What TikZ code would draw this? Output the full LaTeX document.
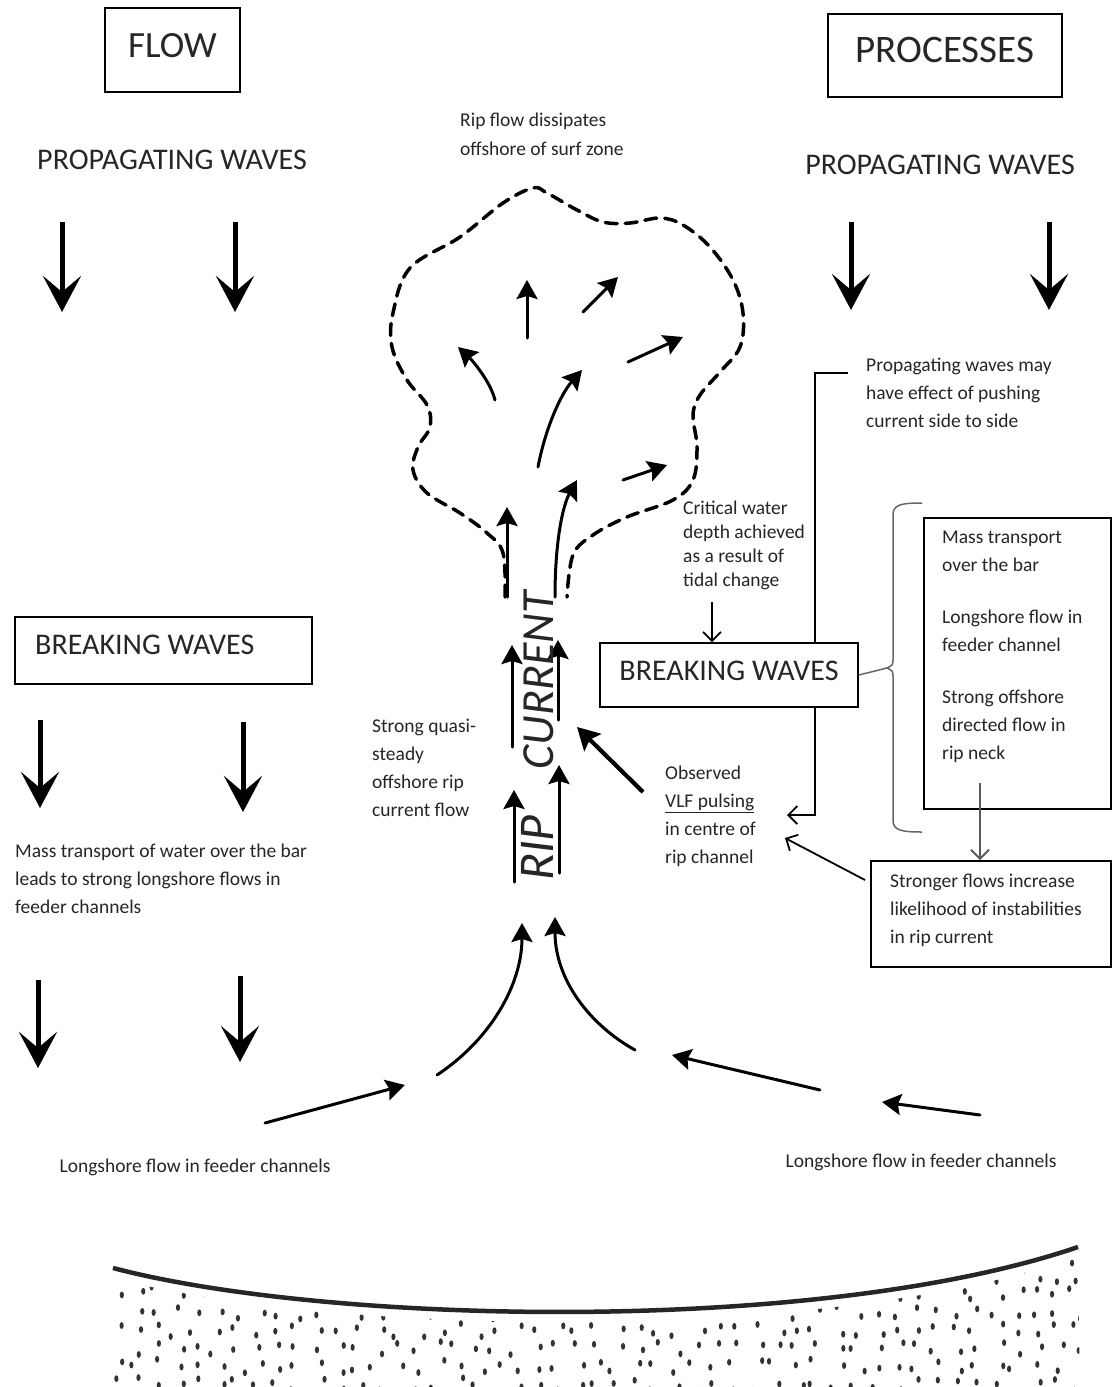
\documentclass[tikz,border=0pt]{standalone}
\usepackage{fontspec}
\setmainfont{Carlito}
\usetikzlibrary{arrows.meta,calc}

\tikzset{
  box/.style={draw, line width=1.6pt, fill=white, inner sep=0pt},
  heading/.style={font=\fontsize{30}{34}\selectfont, text=black!85, inner sep=0pt},
  small/.style={font=\fontsize{19.5}{28}\selectfont, text=black!85, align=left,
                inner sep=0pt, anchor=north west},
  bigarrow/.style={line width=5pt, -{Stealth[length=36pt,width=38pt,inset=16pt]}},
  flowarrow/.style={line width=3pt, line cap=round,
                    -{Stealth[length=19pt,width=21pt,inset=3pt]}},
  obsarrow/.style={line width=4.2pt, -{Stealth[length=22pt,width=24pt,inset=4pt]}},
  thinarrow/.style={line width=1.8pt, -{Straight Barb[length=9pt,width=18pt]}},
  greyarrow/.style={line width=1.8pt, black!65, -{Straight Barb[length=9pt,width=18pt]}},
  cloudline/.style={line width=3.5pt, dash pattern=on 12pt off 8pt, line cap=round},
  bracelin/.style={line width=1.5pt, black!60},
}

\begin{document}
\begin{tikzpicture}[x=1pt,y=-1pt]
\fill[white] (0,0) rectangle (1112,1387);
\useasboundingbox (0,0) rectangle (1112,1387);

% ---- column headings ----
\node[box, minimum width=135pt, minimum height=84pt, text depth=10pt,
      font=\fontsize{37}{40}\selectfont, text=black!85] (flowbox) at (172.5,50) {FLOW};
\node[box, minimum width=234pt, minimum height=83pt, text depth=12pt,
      font=\fontsize{39}{42}\selectfont, text=black!85] (procbox) at (945,55.5) {PROCESSES};

\node[heading] (propL) at (172,160) {PROPAGATING WAVES};
\node[heading] (propR) at (940,165) {PROPAGATING WAVES};

% ---- incoming wave arrows ----
\draw[bigarrow] (62,222) -- (62,312);
\draw[bigarrow] (235,222) -- (235,312);
\draw[bigarrow] (851,222) -- (851,310);
\draw[bigarrow] (1049,222) -- (1049,310);

\node[box, minimum width=297pt, minimum height=67pt, anchor=west] (breakL) at (14,650.5) {};
\node[heading, anchor=west] (breakLtxt) at (35,645) {BREAKING WAVES};

\draw[bigarrow] (40,720) -- (40,808);
\draw[bigarrow] (243,722) -- (243,812);

\node[small] (masstxt) at (15,844)
  {Mass transport of water over the bar\\leads to strong longshore flows in\\feeder channels};

\draw[bigarrow] (38,980) -- (38,1068);
\draw[bigarrow] (240,976) -- (240,1062);

% ---- rip head: dashed outline and spreading flow ----
\node[small, font=\fontsize{19.5}{29}\selectfont] (dissip) at (460,113)
  {Rip flow dissipates\\offshore of surf zone};

\draw[cloudline] plot[smooth, tension=0.6] coordinates {
  (505,597) (503,553) (487,533) (460,513) (427,493) (413,470) (418,447)
  (430,427) (427,405) (407,380) (392,347) (393,313) (410,268) (460,237)
  (503,203) (533,188) (547,193) (577,210) (603,222) (630,223) (660,218)
  (683,225) (710,247) (733,280) (743,313) (740,347) (720,372) (700,395)
  (693,415) (697,447) (693,480) (673,500) (627,517) (593,535) (573,555)
  (567,597)};

\draw[flowarrow] (527,338) -- (527,280);
\draw[flowarrow] (583,312) -- (618,277);
\draw[flowarrow] (495,400) .. controls (490,380) and (470,358) .. (458,347);
\draw[flowarrow] (628,362) -- (683,337);
\draw[flowarrow] (538,467) .. controls (545,430) and (560,395) .. (582,370);
\draw[flowarrow] (623,480) -- (667,465);
\draw[flowarrow] (507,597) -- (507,507);
\draw[flowarrow] (555,597) .. controls (555,540) and (563,505) .. (577,480);

% ---- rip neck ----
\draw[flowarrow] (512,747) -- (512,645);
\draw[flowarrow] (558,720) -- (558,640);
\draw[flowarrow] (514,882) -- (514,790);
\draw[flowarrow] (559,873) -- (559,765);
\node[rotate=90, font=\fontsize{46}{48}\selectfont\itshape, text=black!85,
      inner sep=0pt] (current) at (539,680) {CURRENT};
\node[rotate=90, font=\fontsize{50}{52}\selectfont\itshape, text=black!85,
      inner sep=0pt] (rip) at (537,848) {RIP};

\node[small] (quasi) at (372,719)
  {Strong quasi-\\steady\\offshore rip\\current flow};

% ---- feeder flow ----
\draw[flowarrow] (437,1075) .. controls (490,1040) and (522,985) .. (522,923);
\draw[flowarrow] (635,1050) .. controls (590,1025) and (555,980) .. (555,917);
\draw[flowarrow] (265,1123) -- (405,1085);
\draw[flowarrow] (820,1090) -- (672,1055);
\draw[flowarrow] (980,1115) -- (882,1102);

\node[font=\fontsize{19.5}{28}\selectfont, text=black!85, inner sep=0pt]
  (longL) at (195,1167) {Longshore flow in feeder channels};
\node[font=\fontsize{19.5}{28}\selectfont, text=black!85, inner sep=0pt]
  (longR) at (921,1162) {Longshore flow in feeder channels};

% ---- processes column ----
\node[small] (pushnote) at (866,358)
  {Propagating waves may\\have effect of pushing\\current side to side};
\coordinate (pushA) at (848,373);
\coordinate (pushB) at (815,373);
\coordinate (pushC) at (815,815);
\coordinate (vlfin) at (787,815);
\draw[thinarrow] (pushA) -- (pushB) -- (pushC) -- (vlfin);

\node[small, font=\fontsize{19.5}{24}\selectfont] (critical) at (683,501)
  {Critical water\\depth achieved\\as a result of\\tidal change};

\node[box, minimum width=258pt, minimum height=64pt, text depth=8pt,
      font=\fontsize{30}{34}\selectfont, text=black!85] (breakR) at (729,675) {BREAKING WAVES};
\draw[thinarrow] (712,602) -- (breakR.north -| 712,0);

\node[small] (observed) at (665,766)
  {Observed\\\underline{VLF pulsing}\\in centre of\\rip channel};
\coordinate (obsstart) at (643,792);
\coordinate (neck) at (577,727);
\draw[obsarrow] (obsstart) -- (neck);

% mass transport box
\node[box, minimum width=187pt, minimum height=291pt, anchor=north west] (massbox) at (923,517) {};
\node[small] (masslist) at (942,531)
  {Mass transport\\over the bar\\[24pt]Longshore flow in\\feeder channel\\[24pt]Strong offshore\\directed flow in\\rip neck};

% brace joining the breaking-wave box to the list
\draw[bracelin] (breakR.east) -- (887,668);
\draw[bracelin] (922,503) .. controls (900,503) and (893,505) .. (893,515) -- (893,658)
  .. controls (893,665) .. (887,668) .. controls (893,671) .. (893,678) -- (893,820)
  .. controls (893,830) and (900,832) .. (922,832);

% stronger flows box
\node[box, minimum width=240pt, minimum height=106pt, anchor=north west] (stronger) at (870,860) {};
\node[small] (strongtxt) at (890,874)
  {Stronger flows increase\\likelihood of instabilities\\in rip current};

\coordinate (massout) at (980,783);
\draw[greyarrow] (massout) -- (stronger.north -| massout);
\draw[thinarrow] ($(stronger.north west)+(-5,20)$) -- (785,838);

% ---- beach ----
\draw[line width=4.5pt, black!85] (113,1268) .. controls (330,1325) and (820,1335) .. (1078,1247);
\begin{scope}
  \clip (113,1278) .. controls (330,1335) and (820,1345) .. (1078,1257)
        -- (1080,1390) -- (113,1390) -- cycle;
  \pgfmathsetseed{17}
  \foreach \i in {0,...,48}{
    \foreach \j in {0,...,7}{
      \pgfmathsetmacro{\dx}{117+20*\i+8*rand}
      \pgfmathsetmacro{\dy}{1258+18*\j+7*rand}
      \fill[black!80] (\dx,\dy) ellipse [x radius=2.1, y radius=3.4];
    }
  }
\end{scope}
\end{tikzpicture}
\end{document}
